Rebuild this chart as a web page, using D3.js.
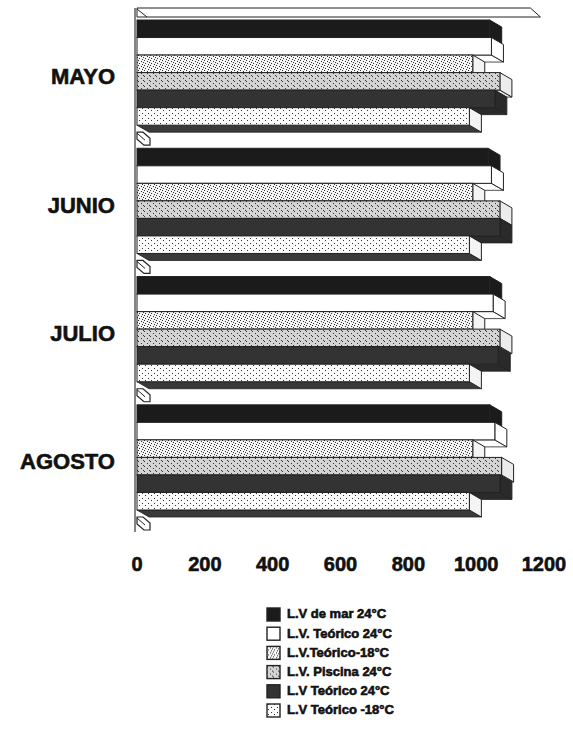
<!DOCTYPE html>
<html>
<head>
<meta charset="utf-8">
<script src="https://cdn.jsdelivr.net/npm/d3@7"></script>
<style>
  body { margin: 0; background: #fff; }
  text { font-family: "Liberation Sans", Arial, sans-serif; font-weight: bold; fill: #111; }
</style>
</head>
<body>
<div id="graph"></div>
<script>
/* data */
var months = ["MAYO", "JUNIO", "JULIO", "AGOSTO"];
var seriesNames = ["L.V de mar 24°C", "L.V. Teórico 24°C", "L.V.Teórico-18°C",
                   "L.V. Piscina 24°C", "L.V Teórico 24°C", "L.V Teórico -18°C"];
var mayo   = [1040, 1045, 990, 1070, 1055, 980];
var junio  = [1035, 1045, 990, 1070, 1070, 980];
var julio  = [1040, 1050, 990, 1070, 1065, 980];
var agosto = [1040, 1055, 990, 1075, 1070, 980];
var xTicks = [0, 200, 400, 600, 800, 1000, 1200];

var values = [mayo, junio, julio, agosto];

// fills per series (front face, side face)
var fronts = ["#1b1b1b", "#ffffff", "url(#stip1)", "url(#stip2)", "#333333", "url(#stip3)"];
var sides  = ["#1b1b1b", "#ffffff", "#f4f4f4", "#ececec", "#2a2a2a", "#f4f4f4"];

var width = 573, height = 742;
var dx = 12, dy = 7;   // 3d depth

var svg = d3.select("#graph").append("svg")
            .attr("width", width)
            .attr("height", height);

// speckle patterns
var defs = svg.append("defs");
function speckle(id, bg, dots) {
  var p = defs.append("pattern").attr("id", id)
              .attr("patternUnits", "userSpaceOnUse")
              .attr("width", 6).attr("height", 5);
  p.append("rect").attr("width", 6).attr("height", 5).attr("fill", bg);
  dots.forEach(function(d) {
    p.append("rect").attr("x", d[0]).attr("y", d[1])
     .attr("width", 1).attr("height", 1).attr("fill", "#333");
  });
}
speckle("stip1", "#f4f4f4", [[0, 0], [3, 1], [1, 3], [4, 4], [5, 2]]);
speckle("stip2", "#d4d4d4", [[0, 1], [3, 3], [5, 0]]);
speckle("stip3", "#fafafa", [[1, 0], [4, 3]]);

var x = d3.scaleLinear().domain([0, 1200]).range([137, 544]);

var y = d3.scaleBand()
          .domain(months)
          .range([20, 510])
          .paddingInner(0.18)
          .paddingOuter(0);

var ys = d3.scaleBand()
           .domain(d3.range(seriesNames.length))
           .range([0, y.bandwidth()]);

// wall line and top slab
svg.append("line")
   .attr("x1", x(0) - 2).attr("x2", x(0) - 2)
   .attr("y1", 8).attr("y2", y(months[3]) + y.bandwidth() + 22)
   .attr("stroke", "#333").attr("stroke-width", 1.2);

var topY = y(months[0]) - 12;
svg.append("polygon")
   .attr("points", [[x(0), topY], [x(1160), topY], [x(1160) + 10, topY + 9], [x(0), topY + 9]].join(" "))
   .attr("fill", "#fff").attr("stroke", "#222").attr("stroke-width", 1);
svg.append("line")
   .attr("x1", x(0)).attr("y1", topY + 1).attr("x2", x(0) + 10).attr("y2", topY + 9)
   .attr("stroke", "#222");

// bars
months.forEach(function(m, i) {
  var g = svg.append("g").attr("class", "group");
  values[i].forEach(function(v, j) {
    var y0 = y(m) + ys(j), h = ys.bandwidth();
    var x0 = x(0), x1 = x(v);
    var bottomFill = (j == 5) ? "#3a3a3a" : sides[j];
    // bottom face
    g.append("polygon")
     .attr("points", [[x0, y0 + h], [x1, y0 + h], [x1 + dx, y0 + h + dy], [x0 + dx, y0 + h + dy]].join(" "))
     .attr("fill", bottomFill).attr("stroke", "#222").attr("stroke-width", 0.8);
    // end face
    g.append("polygon")
     .attr("points", [[x1, y0], [x1 + dx, y0 + dy], [x1 + dx, y0 + h + dy], [x1, y0 + h]].join(" "))
     .attr("fill", sides[j]).attr("stroke", "#222").attr("stroke-width", 1);
    // front face
    g.append("rect")
     .attr("x", x0).attr("y", y0)
     .attr("width", x1 - x0).attr("height", h)
     .attr("fill", fronts[j]).attr("stroke", "#222").attr("stroke-width", 1);
  });

  // small stub on the wall below each group
  var sy = y(m) + y.bandwidth() + 7;
  svg.append("polygon")
     .attr("points", [[x(0), sy], [x(0) + 6, sy], [x(0) + 13, sy + 6], [x(0) + 13, sy + 13], [x(0) + 7, sy + 13], [x(0), sy + 7]].join(" "))
     .attr("fill", "#fff").attr("stroke", "#222").attr("stroke-width", 1.2);
  svg.append("line")
     .attr("x1", x(0)).attr("y1", sy + 1).attr("x2", x(0) + 8).attr("y2", sy + 8)
     .attr("stroke", "#222");

  // category label
  svg.append("text")
     .attr("x", 115)
     .attr("y", y(m) + y.bandwidth() / 2 + 6)
     .attr("text-anchor", "end")
     .attr("dominant-baseline", "middle")
     .style("font-size", "22px")
     .style("stroke", "#111").style("stroke-width", 0.6)
     .text(m);
});

// value axis labels
svg.append("g").selectAll("text")
   .data(xTicks)
   .enter()
   .append("text")
   .attr("x", function(d) { return x(d); })
   .attr("y", 566)
   .attr("text-anchor", "middle")
   .attr("dominant-baseline", "middle")
   .style("font-size", "20px")
   .style("stroke", "#111").style("stroke-width", 0.6)
   .text(function(d) { return d; });

// legend
var legend = svg.append("g").attr("transform", "translate(267,608)");
seriesNames.forEach(function(s, j) {
  var row = legend.append("g").attr("transform", "translate(0," + (j * 19.2) + ")");
  row.append("rect")
     .attr("width", 13).attr("height", 13)
     .attr("fill", fronts[j]).attr("stroke", "#222").attr("stroke-width", 1.4);
  row.append("text")
     .attr("x", 20).attr("y", 7)
     .attr("dominant-baseline", "middle")
     .style("font-size", "13px")
     .style("stroke", "#111").style("stroke-width", 0.6)
     .text(s);
});
</script>
</body>
</html>
